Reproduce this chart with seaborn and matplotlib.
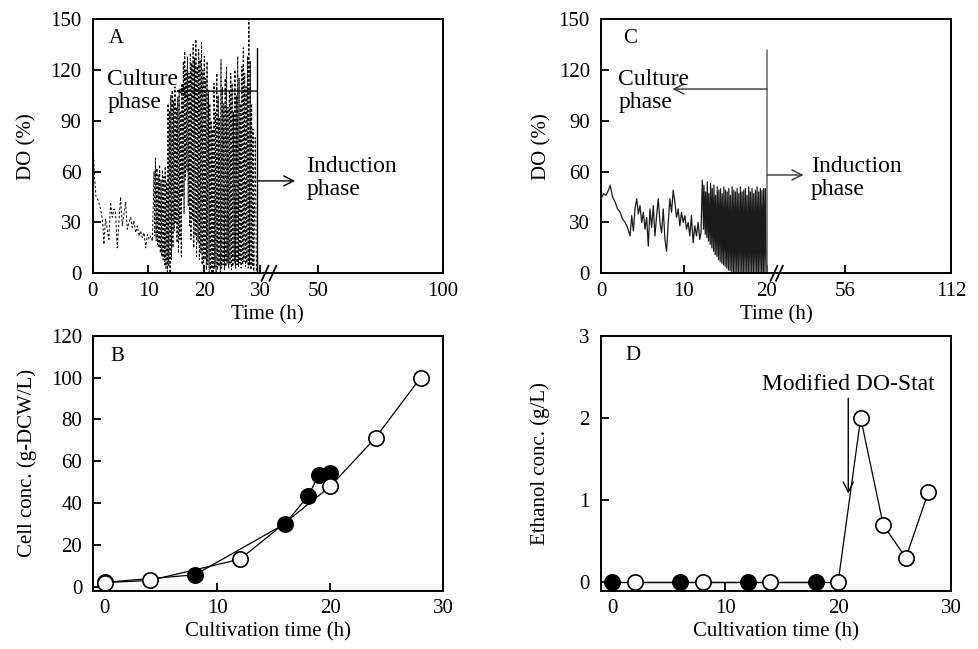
import pandas as pd
import matplotlib
matplotlib.use('Agg')
import matplotlib.pyplot as plt
import seaborn as sns

# ---- Panel A: DO (%) trace, dashed
a_t_early = [0.0, 0.3, 0.6, 1.0, 1.4, 1.8, 2.0, 2.3, 2.6, 2.9, 3.2, 3.5, 3.8, 4.1, 4.4, 4.7,
             5.0, 5.3, 5.6, 5.9, 6.2, 6.5, 6.8, 7.1, 7.4, 7.7, 8.0, 8.3, 8.6, 8.9, 9.2, 9.5,
             9.8, 10.1, 10.4, 10.7]
a_do_early = [80, 58, 45, 43, 38, 30, 17, 32, 26, 20, 42, 33, 38, 36, 15, 30,
              45, 28, 35, 42, 26, 30, 33, 27, 31, 24, 28, 22, 25, 21, 24, 15,
              23, 20, 22, 19]
a_peak_t = [11.0, 11.25, 11.5, 11.75, 12.0, 12.25, 12.5, 12.75, 13.0, 13.25,
            13.5, 13.75, 14.0, 14.25, 14.5, 14.75, 15.0, 15.25, 15.5, 15.75,
            16.0, 16.25, 16.5, 16.75, 17.0, 17.25, 17.5, 17.75, 18.0, 18.25,
            18.5, 18.75, 19.0, 19.25, 19.5, 19.75, 20.0, 20.25, 20.5, 20.75,
            21.0, 21.25, 21.5, 21.75, 22.0, 22.25, 22.5, 22.75, 23.0, 23.25,
            23.5, 23.75, 24.0, 24.25, 24.5, 24.75, 25.0, 25.25, 25.5, 25.75,
            26.0, 26.25, 26.5, 26.75, 27.0, 27.25, 27.5, 27.75, 28.0, 28.25,
            28.5, 28.75]
a_peak_do = [60, 68, 62, 58, 64, 55, 61, 57, 63, 54,
             100, 96, 105, 108, 102, 110, 98, 104, 107, 95,
             112, 125, 131, 120, 128, 118, 130, 124, 135, 127,
             138, 122, 132, 126, 136, 120, 128, 115, 125, 108,
             100, 90, 85, 112, 95, 118, 105, 92, 126, 110,
             100, 115, 122, 98, 108, 118, 112, 95, 120, 105,
             128, 115, 100, 122, 133, 118, 110, 128, 150, 125,
             100, 85]
a_trough_t = [11.12, 11.38, 11.62, 11.88, 12.12, 12.38, 12.62, 12.88, 13.12, 13.38,
              13.62, 13.88, 14.12, 14.38, 14.62, 14.88, 15.12, 15.38, 15.62, 15.88,
              16.12, 16.38, 16.62, 16.88, 17.12, 17.38, 17.62, 17.88, 18.12, 18.38,
              18.62, 18.88, 19.12, 19.38, 19.62, 19.88, 20.12, 20.38, 20.62, 20.88,
              21.12, 21.38, 21.62, 21.88, 22.12, 22.38, 22.62, 22.88, 23.12, 23.38,
              23.62, 23.88, 24.12, 24.38, 24.62, 24.88, 25.12, 25.38, 25.62, 25.88,
              26.12, 26.38, 26.62, 26.88, 27.12, 27.38, 27.62, 27.88, 28.12, 28.38,
              28.62, 28.88]
a_trough_do = [22, 19, 17, 15, 12, 10, 8, 5, 3, 1,
               4, 0, 8, 15, 25, 30, 18, 12, 20, 10,
               45, 35, 55, 60, 40, 28, 20, 32, 15, 22,
               10, 18, 8, 12, 5, 3, 8, 2, 5, 1,
               2, 0, 1, 3, 0, 2, 4, 1, 3, 5,
               2, 4, 6, 3, 5, 2, 4, 6, 3, 5,
               4, 6, 3, 5, 7, 4, 6, 3, 5, 2,
               4, 0]
a_t_end = [29.15, 29.35]
a_do_end = [80, 0]

# ---- Panel C: DO (%) trace, solid
c_t_early = [0.0, 0.3, 0.6, 0.9, 1.1, 1.4, 1.7, 2.0, 2.3, 2.6, 2.9, 3.2, 3.5, 3.7, 3.9,
             4.1, 4.3, 4.5, 4.7, 4.9, 5.1, 5.3, 5.5, 5.7, 5.9, 6.1, 6.3, 6.5, 6.7, 6.9,
             7.1, 7.3, 7.5, 7.7, 7.9, 8.1, 8.3, 8.5, 8.7, 8.9, 9.1, 9.3, 9.5, 9.7, 9.9,
             10.1, 10.3, 10.5, 10.7, 10.9, 11.1, 11.3, 11.5, 11.7, 11.9, 12.05]
c_do_early = [44, 47, 46, 49, 52, 45, 42, 38, 36, 32, 30, 27, 22, 34, 25,
              38, 44, 35, 40, 30, 36, 26, 33, 16, 38, 27, 40, 22, 34, 44,
              30, 24, 38, 20, 13, 30, 44, 36, 49, 42, 33, 38, 28, 36, 30,
              34, 26, 30, 22, 34, 18, 28, 22, 30, 20, 24]
c_peak_t = [12.2, 12.4, 12.6, 12.8, 13.0, 13.2, 13.4, 13.6, 13.8, 14.0,
            14.2, 14.4, 14.6, 14.8, 15.0, 15.2, 15.4, 15.6, 15.8, 16.0,
            16.2, 16.4, 16.6, 16.8, 17.0, 17.2, 17.4, 17.6, 17.8, 18.0,
            18.2, 18.4, 18.6, 18.8, 19.0, 19.2, 19.4, 19.6, 19.8]
c_peak_do = [55, 52, 48, 54, 47, 53, 50, 52, 46, 51,
             49, 50, 47, 51, 49, 48, 50, 46, 51, 49,
             48, 50, 47, 51, 48, 49, 50, 46, 51, 48,
             50, 47, 49, 51, 48, 50, 49, 50, 50]
c_trough_t = [12.36, 12.56, 12.76, 12.96, 13.16, 13.36, 13.56, 13.76, 13.96, 14.16,
              14.36, 14.56, 14.76, 14.96, 15.16, 15.36, 15.56, 15.76, 15.96, 16.16,
              16.36, 16.56, 16.76, 16.96, 17.16, 17.36, 17.56, 17.76, 17.96, 18.16,
              18.36, 18.56, 18.76, 18.96, 19.16, 19.36, 19.56, 19.76, 19.96]
c_trough_do = [26, 23, 21, 19, 17, 15, 13, 11, 10, 8,
               7, 6, 5, 4, 3, 2, 1.5, 1, 0.5, 0.5,
               0, 0, 0.5, 0, 0, 0, 0, 0.5, 0, 0,
               0, 0, 0, 0.5, 0, 0, 0, 0, 0]

# ---- Panel B: cell concentration
b_open_t = [0, 4, 12, 20, 24, 28]
b_open_cell = [1.9, 2.9, 13.1, 48, 71.2, 100]
b_fill_t = [0, 8, 16, 18, 19, 20]
b_fill_cell = [2.0, 5.6, 30.1, 43.2, 53.4, 54.1]

# ---- Panel D: ethanol concentration
d_open_t = [2, 8, 14, 20, 22, 24, 26, 28]
d_open_eth = [0, 0, 0, 0, 2.0, 0.7, 0.3, 1.1]
d_fill_t = [0, 6, 12, 18]
d_fill_eth = [0, 0, 0, 0]


def zigzag(t0, v0, pt, pv, tt, tv, t1=(), v1=()):
    ts, vs = list(t0), list(v0)
    for a, b, c, d in zip(pt, pv, tt, tv):
        ts += [a, c]
        vs += [b, d]
    return ts + list(t1), vs + list(v1)


a_t, a_do = zigzag(a_t_early, a_do_early, a_peak_t, a_peak_do, a_trough_t, a_trough_do, a_t_end, a_do_end)
c_t, c_do = zigzag(c_t_early, c_do_early, c_peak_t, c_peak_do, c_trough_t, c_trough_do, [20.0], [0])
dfA = pd.DataFrame({"t": a_t, "DO": a_do})
dfC = pd.DataFrame({"t": c_t, "DO": c_do})

sns.set_style("ticks")
plt.rcParams['font.family'] = ['Liberation Serif', 'DejaVu Serif']
plt.rcParams.update({
    'font.size': 15, 'axes.labelsize': 15, 'xtick.labelsize': 15, 'ytick.labelsize': 15,
    'axes.edgecolor': 'black', 'axes.linewidth': 1.4, 'text.color': 'black',
    'axes.labelcolor': 'black', 'xtick.color': 'black', 'ytick.color': 'black',
    'xtick.direction': 'in', 'ytick.direction': 'in',
    'xtick.major.size': 5.5, 'ytick.major.size': 5.5,
    'xtick.major.width': 1.3, 'ytick.major.width': 1.3,
    'xtick.major.pad': 6, 'ytick.major.pad': 8,
})

fig = plt.figure(figsize=(9.79, 6.49), dpi=100)
axA = fig.add_axes([0.0947, 0.5789, 0.3575, 0.3918])
axC = fig.add_axes([0.6139, 0.5789, 0.3575, 0.3918])
axB = fig.add_axes([0.0953, 0.0898, 0.3575, 0.3929])
axD = fig.add_axes([0.6139, 0.0898, 0.3575, 0.3929])

arrow = dict(arrowstyle="->", lw=1, color="black", mutation_scale=18, shrinkA=0, shrinkB=0)

# ---------------- A
sns.lineplot(data=dfA, x="t", y="DO", ax=axA, estimator=None, sort=False,
             color="black", lw=0.7, linestyle=(0, (2.5, 2)))
axA.set_xlim(0, 62.75)
axA.set_ylim(0, 150)
axA.set_yticks([0, 30, 60, 90, 120, 150])
axA.set_xticks([0, 10, 20, 30, 40.46, 62.75])
axA.set_xticklabels(["0", "10", "20", "30", "50", "100"])
axA.set_xlabel("Time (h)", labelpad=3)
axA.set_ylabel("DO (%)")
axA.yaxis.set_label_coords(-0.16, 0.5)
axA.plot([29.5, 29.5], [0, 133], color="black", lw=1)
axA.annotate("", xy=(14.9, 107.5), xytext=(29.5, 107.5), arrowprops=arrow)
axA.annotate("", xy=(36.3, 54.5), xytext=(29.5, 54.5), arrowprops=arrow)
# multi-line text: baseline refers to the last line here
axA.text(2.6, 97.3, "Culture\nphase", fontsize=17, va="baseline", linespacing=1.15)
axA.text(38.3, 46.2, "Induction\nphase", fontsize=17, va="baseline", linespacing=1.15)
axA.text(0.045, 0.904, "A", transform=axA.transAxes, fontsize=15, va="baseline")
for xc in (30.9, 32.3):
    axA.plot([xc - 0.63, xc + 0.63], [-0.03, 0.03], color="black", lw=1.3,
             transform=axA.get_xaxis_transform(), clip_on=False)

# ---------------- C
sns.lineplot(data=dfC, x="t", y="DO", ax=axC, estimator=None, sort=False,
             color="#1a1a1a", lw=0.9)
axC.set_xlim(0, 42.17)
axC.set_ylim(0, 150)
axC.set_yticks([0, 30, 60, 90, 120, 150])
axC.set_xticks([0, 10, 20, 29.4, 42.17])
axC.set_xticklabels(["0", "10", "20", "56", "112"])
axC.set_xlabel("Time (h)", labelpad=3)
axC.set_ylabel("DO (%)")
axC.yaxis.set_label_coords(-0.142, 0.5)
axC.plot([20, 20], [0, 132], color="#666666", lw=1.1)
axC.annotate("", xy=(8.6, 108.7), xytext=(20, 108.7), arrowprops=dict(arrow, color="#333333"))
axC.annotate("", xy=(24.4, 58), xytext=(20, 58), arrowprops=dict(arrow, color="#333333"))
axC.text(2.1, 97.3, "Culture\nphase", fontsize=17, va="baseline", linespacing=1.15)
axC.text(25.3, 46.2, "Induction\nphase", fontsize=17, va="baseline", linespacing=1.15)
axC.text(0.062, 0.904, "C", transform=axC.transAxes, fontsize=15, va="baseline")
for xc in (20.84, 21.5):
    axC.plot([xc - 0.42, xc + 0.42], [-0.03, 0.03], color="black", lw=1.3,
             transform=axC.get_xaxis_transform(), clip_on=False)

# ---------------- B
mk = dict(marker="o", markersize=11, markeredgecolor="black", markeredgewidth=1.2)
sns.lineplot(x=b_fill_t, y=b_fill_cell, ax=axB, estimator=None, sort=False,
             color="black", lw=0.9, markerfacecolor="black", **mk)
sns.lineplot(x=b_open_t, y=b_open_cell, ax=axB, estimator=None, sort=False,
             color="black", lw=0.9, markerfacecolor="white", **mk)
axB.set_xlim(-1, 30)
axB.set_ylim(-2, 120)
axB.set_xticks([0, 10, 20, 30])
axB.set_yticks([0, 20, 40, 60, 80, 100, 120])
axB.set_xlabel("Cultivation time (h)", labelpad=3)
axB.set_ylabel("Cell conc. (g-DCW/L)")
axB.yaxis.set_label_coords(-0.162, 0.5)
axB.text(0.049, 0.902, "B", transform=axB.transAxes, fontsize=15, va="baseline")

# ---------------- D
sns.lineplot(x=d_fill_t, y=d_fill_eth, ax=axD, estimator=None, sort=False,
             color="black", lw=0.9, markerfacecolor="black", **mk)
sns.lineplot(x=d_open_t, y=d_open_eth, ax=axD, estimator=None, sort=False,
             color="black", lw=0.9, markerfacecolor="white", **mk)
axD.set_xlim(-1, 30)
axD.set_ylim(-0.1, 3)
axD.set_xticks([0, 10, 20, 30])
axD.set_yticks([0, 1, 2, 3])
axD.set_xlabel("Cultivation time (h)", labelpad=3)
axD.set_ylabel("Ethanol conc. (g/L)")
axD.yaxis.set_label_coords(-0.147, 0.5)
axD.text(0.069, 0.904, "D", transform=axD.transAxes, fontsize=15, va="baseline")
axD.annotate("Modified DO-Stat", xy=(20.9, 1.08), xytext=(20.9, 2.28),
             ha="center", va="bottom", fontsize=17, arrowprops=arrow)

fig.savefig("out.png", dpi=100)
